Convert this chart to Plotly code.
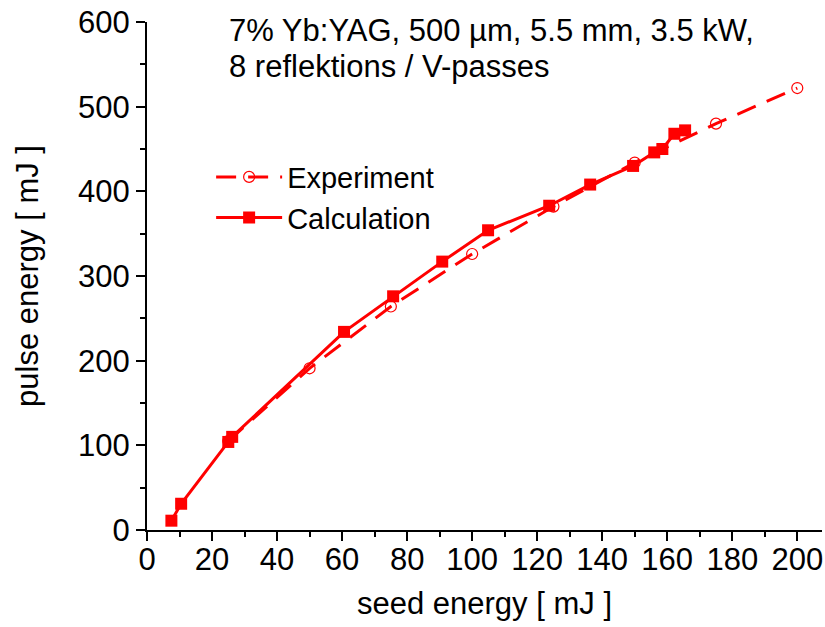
import plotly.graph_objects as go

# Data
exp_x = [25, 50, 75, 100, 125, 150, 175, 200]
exp_y = [105, 191, 264, 326, 382, 434, 480, 522]

calc_x = [7.5, 10.5, 25, 26.2, 60.6, 75.7, 90.8, 104.9, 123.7, 136.3, 149.5, 156, 158.5, 162.2, 165.5]
calc_y = [11, 31, 104, 110, 234, 276, 317, 354, 383, 408, 430, 446, 450, 468, 472]

title_lines = ["7% Yb:YAG, 500 µm, 5.5 mm, 3.5 kW,", "8 reflektions / V-passes"]

FONT = "Liberation Sans, Arial, sans-serif"
RED = "#ff0000"
FS = 31

fig = go.Figure()
fig.add_trace(go.Scatter(
    x=exp_x, y=exp_y, name="Experiment", mode="lines+markers",
    line=dict(color=RED, width=3, dash="20px,12px"),
    marker=dict(symbol="circle-open", size=11, color=RED, line=dict(width=1.2, color=RED)),
))
fig.add_trace(go.Scatter(
    x=calc_x, y=calc_y, name="Calculation", mode="lines+markers",
    line=dict(color=RED, width=3),
    marker=dict(symbol="square", size=12, color=RED),
))

for i, t in enumerate(title_lines):
    fig.add_annotation(
        x=0.118, y=1.022 - i * 0.071, xref="paper", yref="paper",
        xanchor="left", yanchor="top", text=t, showarrow=False,
        font=dict(family=FONT, size=FS, color="black"),
    )

fig.update_layout(
    width=825, height=627,
    margin=dict(l=147, r=3, t=22, b=97),
    paper_bgcolor="white", plot_bgcolor="white",
    font=dict(family=FONT, size=FS, color="black"),
    showlegend=True,
    legend=dict(x=0.095, y=0.745, xanchor="left", yanchor="top",
                bgcolor="rgba(0,0,0,0)", itemwidth=66,
                font=dict(family=FONT, size=29), tracegroupgap=0),
    xaxis=dict(
        range=[0, 207.6], showgrid=False, zeroline=False,
        showline=True, linecolor="black", linewidth=2,
        ticks="outside", ticklen=9, tickwidth=2, tickcolor="black",
        tick0=0, dtick=20, ticklabelstandoff=-8,
        minor=dict(dtick=10, ticks="outside", ticklen=5, tickwidth=2, tickcolor="black"),
        title=dict(text="seed energy [ mJ ]", standoff=16, font=dict(size=FS)),
        tickfont=dict(size=FS),
    ),
    yaxis=dict(
        range=[0, 600], showgrid=False, zeroline=False,
        showline=True, linecolor="black", linewidth=2,
        ticks="outside", ticklen=9, tickwidth=2, tickcolor="black",
        tick0=0, dtick=100,
        minor=dict(dtick=50, ticks="outside", ticklen=5, tickwidth=2, tickcolor="black"),
        title=dict(text="pulse energy [ mJ ]", standoff=30, font=dict(size=FS)),
        tickfont=dict(size=FS),
    ),
)

fig.write_html("out.html")
